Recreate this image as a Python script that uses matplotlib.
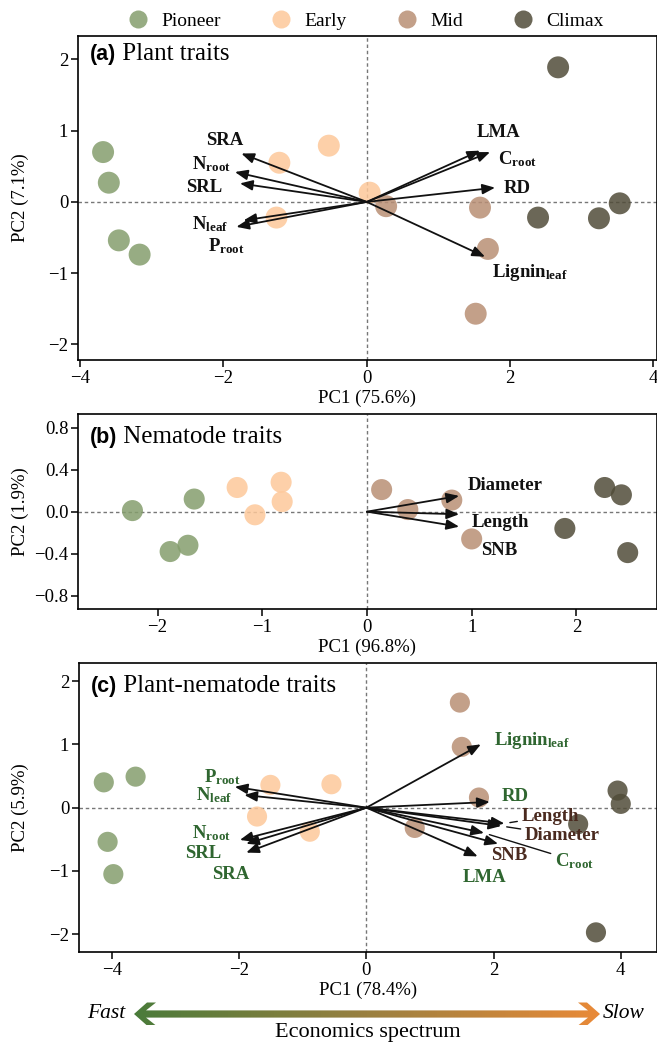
import numpy as np
import matplotlib
matplotlib.use('Agg')
import matplotlib.pyplot as plt
from matplotlib.lines import Line2D
from matplotlib.patches import Polygon
from matplotlib.colors import LinearSegmentedColormap

plt.rcParams['font.family'] = ['Liberation Serif', 'DejaVu Serif']
plt.rcParams['mathtext.fontset'] = 'custom'
plt.rcParams['mathtext.rm'] = 'Liberation Serif'
plt.rcParams['mathtext.bf'] = 'Liberation Serif:bold'
plt.rcParams['mathtext.it'] = 'Liberation Serif:italic'

# ---------------- data ----------------
stages = ['Pioneer', 'Early', 'Mid', 'Climax']
stage_colors = ['#859e6d', '#fdc89a', '#b98f75', '#514c39']
site_stage = ['Pioneer', 'Pioneer', 'Pioneer', 'Pioneer',
              'Early', 'Early', 'Early', 'Early',
              'Mid', 'Mid', 'Mid', 'Mid',
              'Climax', 'Climax', 'Climax', 'Climax']

# (a) plant traits
a_pc1 = [-3.68, -3.60, -3.46, -3.17, -1.22, -0.53, 0.04, -1.26,
         0.27, 1.58, 1.69, 1.52, 2.67, 2.39, 3.24, 3.53]
a_pc2 = [0.70, 0.27, -0.54, -0.74, 0.55, 0.79, 0.13, -0.22,
         -0.06, -0.08, -0.66, -1.57, 1.89, -0.22, -0.23, -0.02]
a_traits = ['SRA', r'$\mathbf{N}_{\mathbf{root}}$', 'SRL', r'$\mathbf{N}_{\mathbf{leaf}}$',
            r'$\mathbf{P}_{\mathbf{root}}$', 'LMA', r'$\mathbf{C}_{\mathbf{root}}$', 'RD',
            r'$\mathbf{Lignin}_{\mathbf{leaf}}$']
a_load1 = [-1.75, -1.84, -1.77, -1.72, -1.82, 1.58, 1.72, 1.79, 1.65]
a_load2 = [0.68, 0.42, 0.26, -0.26, -0.35, 0.72, 0.70, 0.20, -0.77]

# (b) nematode traits
b_pc1 = [-2.24, -1.65, -1.88, -1.71, -1.24, -0.82, -0.81, -1.07,
         0.14, 0.39, 0.81, 1.00, 2.27, 2.43, 1.89, 2.49]
b_pc2 = [0.01, 0.12, -0.38, -0.32, 0.23, 0.28, 0.095, -0.03,
         0.21, 0.02, 0.11, -0.26, 0.23, 0.16, -0.16, -0.39]
b_traits = ['Diameter', 'Length', 'SNB']
b_load1 = [0.88, 0.88, 0.88]
b_load2 = [0.15, -0.025, -0.143]

# (c) plant-nematode traits
c_pc1 = [-4.13, -3.63, -4.07, -3.98, -1.51, -0.55, -1.72, -0.89,
         1.47, 1.50, 1.77, 0.76, 3.95, 4.00, 3.33, 3.61]
c_pc2 = [0.40, 0.49, -0.54, -1.05, 0.36, 0.37, -0.14, -0.38,
         1.66, 0.96, 0.16, -0.32, 0.27, 0.06, -0.26, -1.97]
c_traits = [r'$\mathbf{Lignin}_{\mathbf{leaf}}$', 'RD', 'Length', 'Diameter',
            r'$\mathbf{C}_{\mathbf{root}}$', 'SNB', 'LMA',
            r'$\mathbf{P}_{\mathbf{root}}$', r'$\mathbf{N}_{\mathbf{leaf}}$',
            r'$\mathbf{N}_{\mathbf{root}}$', 'SRL', 'SRA']
c_trait_group = ['plant', 'plant', 'nematode', 'nematode', 'plant', 'nematode', 'plant',
                 'plant', 'plant', 'plant', 'plant', 'plant']
c_load1 = [1.80, 1.94, 2.17, 2.12, 1.85, 2.07, 1.75, -2.07, -1.92, -1.99, -1.89, -1.89]
c_load2 = [1.00, 0.09, -0.25, -0.29, -0.40, -0.57, -0.77, 0.33, 0.20, -0.51, -0.57, -0.71]

# ---------------- layout / style (not data) ----------------
a_lab_off = [(-12, 9), (-17, 6), (-26, -3), (-24, -2.5), (-7, -14),
             (13, 13), (20, -5), (16, -0.7), (32, -11)]
b_lab_off = [(33, 7.7), (30, -6), (29, -17.3)]
c_lab_off = [(37, 3), (18, 3.6), (33, 5.3), (44, -6.7), (65, -20), (8, -8.4),
             (5, -15.1), (-9, 7.2), (-21.5, 0), (-20.5, 4.8), (-31, -6.7), (-11.3, -16.1)]
c_leader = [False, False, True, True, True, False, False, False, False, False, False, False]
group_color = {'plant': '#2f6630', 'nematode': '#4a2a1f'}

FS = 13.5

W, H = 657, 1046
fig = plt.figure(figsize=(W / 100, H / 100), dpi=100)


def px_axes(left, top, right, bottom):
    ax = fig.add_axes([left / W, 1 - bottom / H, (right - left) / W, (bottom - top) / H])
    ax._px_left = left
    ax._px_width = right - left
    return ax


axa = px_axes(78, 36, 657, 360)
axb = px_axes(78, 414, 657, 609.3)
axc = px_axes(79, 662.7, 657, 952)

arrow_kw = dict(arrowstyle='-|>,head_length=0.42,head_width=0.17', lw=1.3,
                color='#111111', shrinkA=0, shrinkB=0, mutation_scale=18)


def style_axes(ax, xlim, ylim, xticks, yticks, xlabel, ylabel, yfmt=None):
    ax.set_xlim(*xlim)
    ax.set_ylim(*ylim)
    ax.set_xticks(xticks)
    ax.set_yticks(yticks)
    if yfmt:
        ax.set_yticklabels([yfmt.format(v).replace('-', '\u2212') for v in yticks])
    ax.axhline(0, color='#777777', lw=1.0, ls=(0, (2.5, 2)), zorder=0)
    ax.axvline(0, color='#777777', lw=1.0, ls=(0, (2.5, 2)), zorder=0)
    for s in ax.spines.values():
        s.set_linewidth(1.2)
    ax.tick_params(direction='out', length=5, width=1.1, labelsize=FS, pad=2)
    ax.set_xlabel(xlabel, fontsize=FS, labelpad=2)
    ax.set_ylabel(ylabel, fontsize=FS, va='center')
    ax.yaxis.set_label_coords((20 - ax._px_left) / ax._px_width, 0.5)


def scatter_sites(ax, xs, ys, size):
    for st, col in zip(stages, stage_colors):
        idx = [i for i, s in enumerate(site_stage) if s == st]
        ax.scatter([xs[i] for i in idx], [ys[i] for i in idx], s=size, color=col,
                   alpha=0.85, edgecolors='none', zorder=2)


def panel_title(ax, letter, title, dy):
    t1 = ax.annotate(letter, xy=(0, 1), xycoords='axes fraction', xytext=(8.5, dy),
                     textcoords='offset points', ha='left', va='top',
                     fontfamily='Liberation Sans', fontweight='bold', fontsize=15.5)
    ax.annotate(' ' + title, xy=(1, 0), xycoords=t1, ha='left', va='bottom',
                fontsize=18)


def loadings(ax, names, l1, l2, offs, colors, leaders=None):
    for i, (n, x, y, o) in enumerate(zip(names, l1, l2, offs)):
        ax.annotate('', xy=(x, y), xytext=(0, 0), arrowprops=arrow_kw, zorder=3)
        lead = leaders[i] if leaders else False
        kw = {}
        if lead:
            kw['arrowprops'] = dict(arrowstyle='-', lw=1.0, color='#111111',
                                    shrinkA=1, shrinkB=4)
        ax.annotate(n, xy=(x, y), xytext=o, textcoords='offset points',
                    ha='center', va='center', fontweight='bold', fontsize=13.5,
                    color=colors[i], zorder=4, **kw)


# panel a
scatter_sites(axa, a_pc1, a_pc2, 250)
loadings(axa, a_traits, a_load1, a_load2, a_lab_off, ['#111111'] * len(a_traits))
style_axes(axa, (-4.03, 4.05), (-2.22, 2.33), [-4, -2, 0, 2, 4], [-2, -1, 0, 1, 2],
           'PC1 (75.6%)', 'PC2 (7.1%)')
panel_title(axa, '(a)', 'Plant traits', -6)

# panel b
scatter_sites(axb, b_pc1, b_pc2, 230)
loadings(axb, b_traits, b_load1, b_load2, b_lab_off, ['#111111'] * 3)
style_axes(axb, (-2.76, 2.77), (-0.93, 0.93), [-2, -1, 0, 1, 2],
           [-0.8, -0.4, 0.0, 0.4, 0.8], 'PC1 (96.8%)', 'PC2 (1.9%)', yfmt='{:.1f}')
panel_title(axb, '(b)', 'Nematode traits', -9.5)

# panel c
scatter_sites(axc, c_pc1, c_pc2, 210)
loadings(axc, c_traits, c_load1, c_load2, c_lab_off,
         [group_color[g] for g in c_trait_group], leaders=c_leader)
style_axes(axc, (-4.52, 4.57), (-2.28, 2.29), [-4, -2, 0, 2, 4], [-2, -1, 0, 1, 2],
           'PC1 (78.4%)', 'PC2 (5.9%)')
panel_title(axc, '(c)', 'Plant-nematode traits', -9.5)

# legend
handles = [Line2D([], [], marker='o', ls='', ms=13, color=c, alpha=0.85, mec='none')
           for c in stage_colors]
fig.legend(handles, stages, loc='center', bbox_to_anchor=(366 / W, 1 - 21 / H), ncol=4,
           frameon=False, fontsize=14, handlelength=1.0, handletextpad=0.7,
           columnspacing=2.6, borderaxespad=0)

# economics spectrum arrow
ov = fig.add_axes([0, 0, 1, 1], zorder=-1)
ov.set_xlim(0, W)
ov.set_ylim(H, 0)
ov.axis('off')
yc = 1014
ht = 3.6   # half shaft thickness
hh = 11.5  # head half height
poly = [(134, yc), (147, yc - hh), (156, yc - hh), (146, yc - ht),
        (588, yc - ht), (578, yc - hh), (587, yc - hh), (600, yc),
        (587, yc + hh), (578, yc + hh), (588, yc + ht), (146, yc + ht),
        (156, yc + hh), (147, yc + hh)]
patch = Polygon(poly, closed=True, facecolor='none', edgecolor='none')
ov.add_patch(patch)
cmap = LinearSegmentedColormap.from_list('econ', ['#4a7b3a', '#9a8040', '#e98a38'])
im = ov.imshow(np.linspace(0, 1, 256)[None, :], extent=(134, 600, yc + hh, yc - hh),
               cmap=cmap, aspect='auto', interpolation='bilinear')
im.set_clip_path(patch)
ov.text(106, yc, 'Fast', ha='center', va='center', fontsize=15.5, style='italic')
ov.text(624, yc, 'Slow', ha='center', va='center', fontsize=15.5, style='italic')
ov.text(368, 1033, 'Economics spectrum', ha='center', va='center', fontsize=16)

fig.savefig('out.png', dpi=100)
